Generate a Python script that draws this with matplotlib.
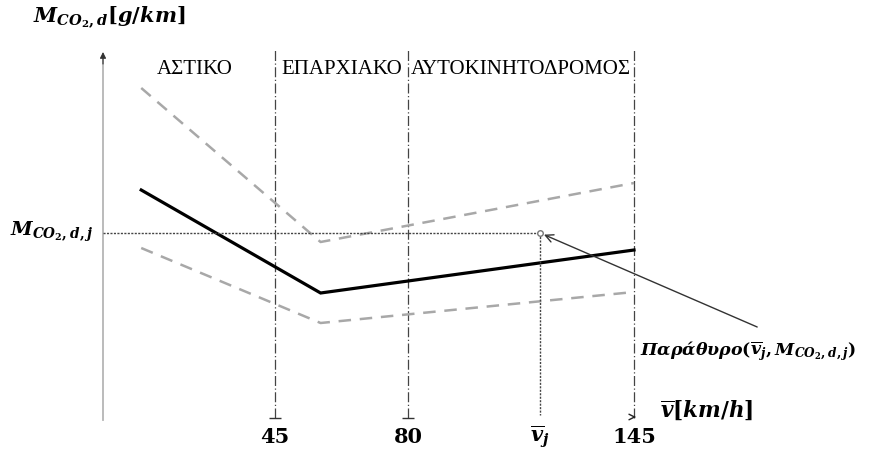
import numpy as np
import matplotlib
matplotlib.use('Agg')
import matplotlib.pyplot as plt

plt.rcParams['font.family'] = ['Liberation Serif', 'DejaVu Serif']
plt.rcParams['mathtext.fontset'] = 'custom'
plt.rcParams['mathtext.it'] = 'DejaVu Serif:italic:bold'
plt.rcParams['mathtext.rm'] = 'DejaVu Serif:bold'
plt.rcParams['mathtext.bf'] = 'DejaVu Serif:bold'

# όρια περιοχών ταχύτητας (km/h) και ονόματα
boundaries = [45, 80, 145]
zone_names = ['ΑΣΤΙΚΟ', 'ΕΠΑΡΧΙΑΚΟ', 'ΑΥΤΟΚΙΝΗΤΟΔΡΟΜΟΣ']
zone_edges = [0, 45, 80, 145]

# καμπύλες εκπομπών CO2 (σχηματικές τιμές, g/km)
speed = [10, 57, 145]
mean_curve = [115, 63.5, 85]
upper_curve = [166, 89, 118.5]
lower_curve = [86, 48.5, 64]

# παράθυρο (v_j, M_j)
v_j = 118
M_j = 93.5

# μη γραμμικός άξονας x (σχηματικό διάγραμμα)
v_knots = [-60, 0, 45, 80, 145, 300]
u_knots = [-60 * 3.82, 0, 172, 305, 531, 531 + 155 * 3.48]


def fwd(v):
    return np.interp(v, v_knots, u_knots)


def inv(u):
    return np.interp(u, u_knots, v_knots)


fig = plt.figure(figsize=(8.7, 4.5), dpi=100)
ax = fig.add_axes([0, 0, 1, 1])
ax.set_xscale('function', functions=(fwd, inv))
ax.set_xlim(inv(-103), inv(767))
ax.set_ylim(-15, 210)
ax.axis('off')

# άξονας y
ax.plot([0, 0], [0, 182], color='#b5b5b5', lw=1.3, zorder=1)
ax.annotate('', xy=(0, 184), xytext=(0, 178),
            arrowprops=dict(arrowstyle='-|>', color='#333333', lw=0.8,
                            mutation_scale=9, shrinkA=0, shrinkB=0))

# κατακόρυφα όρια περιοχών
ax.vlines(boundaries, 1, 186, colors='#444444', lw=0.9,
          linestyles=[(0, (8, 2, 1, 2))])
ax.plot(boundaries[:2], [1, 1], ls='none', marker='_', ms=9,
        mec='#333333', mew=1.0)
ax.annotate('', xy=(145.6, 1.5), xytext=(144.8, 1.5),
            arrowprops=dict(arrowstyle='->', color='#222222', lw=1.0,
                            mutation_scale=10, shrinkA=0, shrinkB=0))

# ονόματα περιοχών
for name, a, b in zip(zone_names, zone_edges[:-1], zone_edges[1:]):
    mid = inv((fwd(a) + fwd(b)) / 2)
    if name == 'ΑΣΤΙΚΟ':
        mid = inv(fwd(mid) + 6)
    ax.text(mid, 175, name, ha='center', va='center', fontsize=15)

# καμπύλες
ax.plot(speed, upper_curve, color='#a8a8a8', lw=1.8, ls=(0, (5, 3.5)))
ax.plot(speed, lower_curve, color='#a8a8a8', lw=1.8, ls=(0, (5, 3.5)))
ax.plot(speed, mean_curve, color='black', lw=2.3, solid_joinstyle='miter')

# παράθυρο
ax.plot([0, v_j], [M_j, M_j], color='#444444', lw=1.0, ls=(0, (1.5, 1)))
ax.plot([v_j, v_j], [M_j, 2.5], color='#444444', lw=1.0, ls=(0, (1.5, 1)))
ax.plot(v_j, M_j, marker='o', ms=4, mfc='white', mec='#777777', mew=1)
ax.annotate('', xy=(v_j, M_j), xytext=(180.4, 46.5),
            arrowprops=dict(arrowstyle='->', color='#333333', lw=1.0,
                            shrinkA=0, shrinkB=3, mutation_scale=14))

# ετικέτες
for b in boundaries:
    ax.text(b, -8.5, str(b), ha='center', va='center', fontsize=15,
            fontweight='bold', family='DejaVu Serif')
ax.text(v_j, -8.5, r'$\overline{v}_j$', ha='center', va='center', fontsize=15)

fig.text(33 / 870, 1 - 18 / 450, r'$M_{CO_2,d}[g/km]$', ha='left', va='center',
         fontsize=15)
fig.text(10 / 870, 1 - 232 / 450, r'$M_{CO_2,d,j}$', ha='left', va='center',
         fontsize=14)
fig.text(660 / 870, 1 - 410 / 450, r'$\overline{v}[km/h]$', ha='left',
         va='center', fontsize=15.5)
fig.text(640 / 870, 1 - 351 / 450, r'Παράθυρο$(\overline{v}_j, M_{CO_2,d,j})$',
         ha='left', va='center', fontsize=12.5, fontstyle='italic',
         fontweight='bold', family='DejaVu Serif')

fig.savefig('out.png', dpi=100)
